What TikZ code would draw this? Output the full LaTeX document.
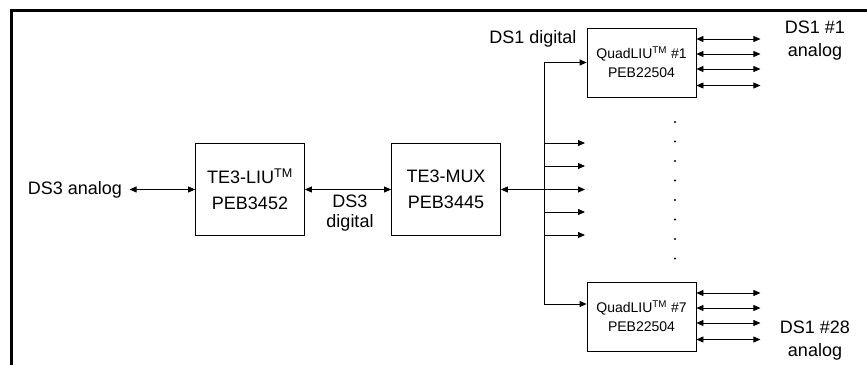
\documentclass[tikz,border=0pt]{standalone}
\usepackage{fontspec}
\setmainfont{Liberation Sans}
\usetikzlibrary{arrows.meta}

\begin{document}
\begin{tikzpicture}[x=1pt,y=-1pt,
  chip/.style={rectangle,draw,line width=0.8pt,align=center,
    font=\fontsize{18}{26}\selectfont,minimum width=109pt,minimum height=92pt},
  quad/.style={rectangle,draw,line width=0.8pt,align=center,
    font=\fontsize{14}{19}\selectfont,minimum width=109pt,minimum height=69pt},
  tag/.style={align=center,font=\fontsize{18}{23}\selectfont},
  link/.style={line width=0.8pt,-{Triangle[length=7pt,width=6pt]}},
  twoway/.style={line width=0.8pt,
    {Triangle[length=7pt,width=6pt]}-{Triangle[length=7pt,width=6pt]}}]
    \useasboundingbox (0,0) rectangle (867,364);
    % Frame
    \draw[line width=3pt] (11,366) -- (11,10) -- (869,10);
    % Chips
    \node[chip] (liu) at (250,189.5) {TE3-LIU\textsuperscript{TM}\\PEB3452};
    \node[chip] (mux) at (446,189.5) {TE3-MUX\\PEB3445};
    \node[quad] (q1) at (641.5,62.5) {QuadLIU\textsuperscript{TM} \#1\\PEB22504};
    \node[quad] (q7) at (641.5,316.5) {QuadLIU\textsuperscript{TM} \#7\\PEB22504};
    % Signal names
    \node[tag] (ds3a) at (75,189.5) {DS3 analog};
    \node[tag,font=\fontsize{18}{20}\selectfont] (ds3d) at (350,213) {DS3\\digital};
    \node[tag] (ds1d) at (533,38.5) {DS1 digital};
    \node[tag] (ds1a) at (815,40.5) {DS1 \#1\\analog};
    \node[tag] (ds28) at (815,341) {DS1 \#28\\analog};
    % DS3 path
    \draw[twoway,shorten <=4pt] (ds3a) -- (liu);
    \draw[twoway] (liu) -- (mux);
    % DS1 bus
    \coordinate (bustop) at (544,62.5);
    \coordinate (busbot) at (544,304);
    \coordinate (tapmid) at (585,189.5);
    \draw[line width=0.8pt] (bustop) -- (busbot);
    \draw[twoway] (mux) -- (tapmid);
    \draw[link] (bustop) -- (q1);
    \draw[link] (busbot) -- (busbot -| q1.west);
    \foreach \y in {143,166,212,235}{
      \coordinate (tap\y) at (544,\y);
      \draw[link] (tap\y) -- (tap\y -| tapmid);
    }
    % Line side
    \foreach \n in {q1,q7}
      \foreach \dy in {-23.5,-8.5,6.5,23}
        \draw[twoway] ([yshift=-\dy pt]\n.east) -- ([xshift=64pt,yshift=-\dy pt]\n.east);
    % Dots
    \foreach \y in {122,141.5,161,180.5,200,219.5,239,258.5}
      \fill (675,\y) circle (1.1pt);
\end{tikzpicture}
\end{document}
